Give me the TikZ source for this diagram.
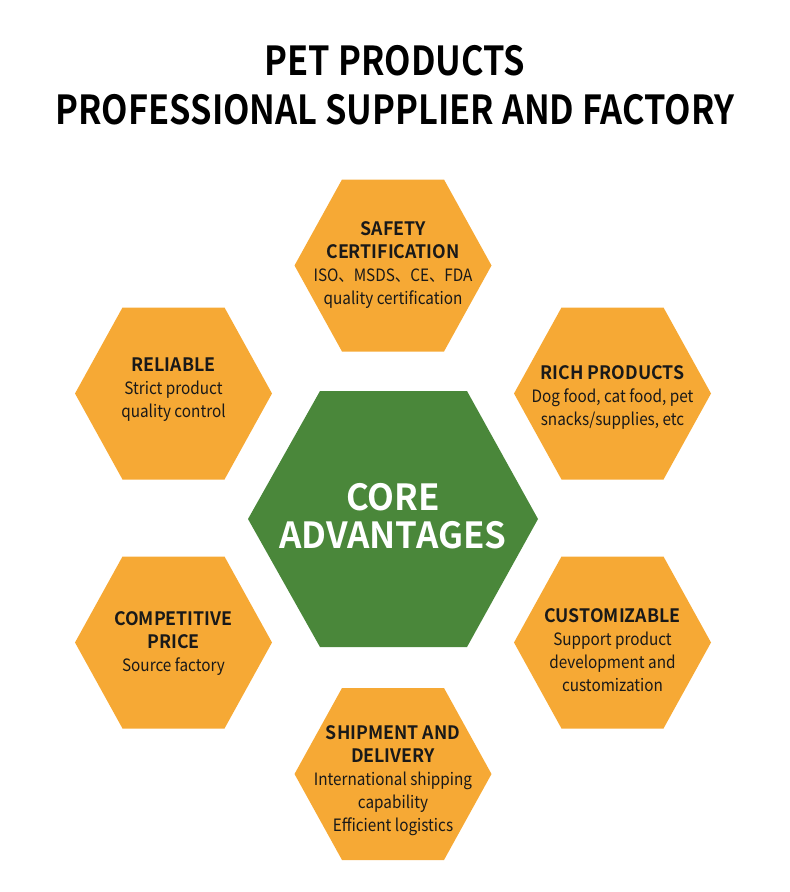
\documentclass[tikz,border=0pt]{standalone}
\usepackage{fontspec}
\setmainfont{Noto Sans CJK SC}[BoldFont={Noto Sans CJK SC Bold}]
\newfontfamily\bodyfont{Noto Sans CJK SC}[FakeStretch=0.9]
\newfontfamily\headfont{Noto Sans CJK SC Bold}[FakeStretch=0.96]
\newfontfamily\corefont{Noto Sans CJK SC Bold}[FakeStretch=0.97]
\newfontfamily\titlefont{Noto Sans CJK SC Bold}[FakeStretch=0.86]
\definecolor{hexorange}{HTML}{F6A935}
\definecolor{coregreen}{HTML}{4A873A}
\tikzset{
  hexfill/.style={fill=hexorange},
  hextext/.style={align=center, text=black!90, font=\fontsize{17}{23}\selectfont\bodyfont, inner sep=0pt},
  coretext/.style={align=center, text=white, font=\fontsize{36}{38}\selectfont\corefont, inner sep=0pt},
  titletext/.style={align=center, text=black, font=\fontsize{40}{49}\selectfont\titlefont, inner sep=0pt}
}
\newcommand\hd[1]{{\fontsize{18.5}{23}\selectfont\headfont #1}}
\begin{document}
\begin{tikzpicture}[x=1pt,y=-1pt]
\useasboundingbox (0,0) rectangle (790,892);
% six orange cells
\foreach \cx/\cy in {393/265.5, 173.5/393.5, 612.5/393.5, 173.5/642.5, 612.5/642.5, 393/774}
  \fill[hexfill] (\cx-98.5,\cy) -- (\cx-51,\cy-86) -- (\cx+51,\cy-86) -- (\cx+98.5,\cy) -- (\cx+51,\cy+86) -- (\cx-51,\cy+86) -- cycle;
% green centre cell
\fill[coregreen] (248,519) -- (320,391) -- (467,391) -- (538,519) -- (467,647) -- (320,647) -- cycle;
\node[titletext] (title) at (395,85) {PET PRODUCTS\\PROFESSIONAL SUPPLIER AND FACTORY};
\node[coretext] (core) at (393,516) {CORE\\ADVANTAGES};
\node[hextext] (safety) at (393,265) {\hd{SAFETY}\\\hd{CERTIFICATION}\\ISO、MSDS、CE、FDA\\quality certification};
\node[hextext] (reliable) at (173.5,390) {\hd{RELIABLE}\\Strict product\\quality control};
\node[hextext] (rich) at (612.5,397) {\hd{RICH PRODUCTS}\\Dog food, cat food, pet\\snacks/supplies, etc};
\node[hextext] (price) at (173.5,644) {\hd{COMPETITIVE}\\\hd{PRICE}\\Source factory};
\node[hextext] (custom) at (612.5,650) {\hd{CUSTOMIZABLE}\\Support product\\development and\\customization};
\node[hextext] (shipment) at (393,781) {\hd{SHIPMENT AND}\\\hd{DELIVERY}\\International shipping\\capability\\Efficient logistics};
\end{tikzpicture}
\end{document}
